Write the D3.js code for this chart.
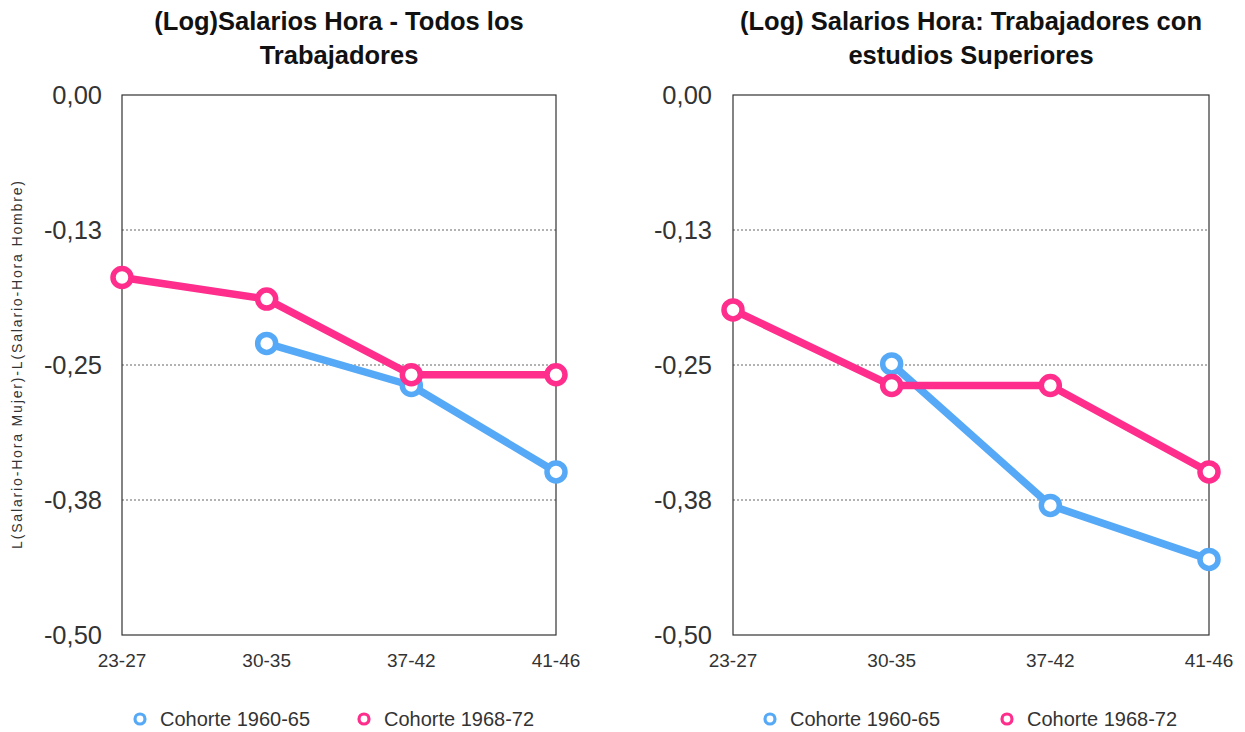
<!DOCTYPE html>
<html>
<head>
<meta charset="utf-8">
<script src="https://cdn.jsdelivr.net/npm/d3@7"></script>
<style>
  body { margin: 0; background: #fff; }
  svg text { font-family: "Helvetica Neue", Helvetica, "Liberation Sans", Arial, sans-serif; }
</style>
</head>
<body>
<div id="chart"></div>
<script>
var ages = ['23-27', '30-35', '37-42', '41-46'];
var yTicks = [0, -0.125, -0.25, -0.375, -0.5];
var yTickLabels = ['0,00', '-0,13', '-0,25', '-0,38', '-0,50'];
var seriesNames = ['Cohorte 1960-65', 'Cohorte 1968-72'];
var colors = ['#55a9f6', '#ff2d8c'];

// left panel: todos los trabajadores
var todos1960 = [null, -0.230, -0.269, -0.349];
var todos1968 = [-0.169, -0.189, -0.259, -0.259];
// right panel: estudios superiores
var sup1960 = [null, -0.249, -0.380, -0.430];
var sup1968 = [-0.199, -0.269, -0.269, -0.349];

var panels = [
  { title: ['(Log)Salarios Hora - Todos los', 'Trabajadores'], series: [todos1960, todos1968],
    x0: 122, x1: 556, tickX: 102, legendX: [140, 364], yLabel: true },
  { title: ['(Log) Salarios Hora: Trabajadores con', 'estudios Superiores'], series: [sup1960, sup1968],
    x0: 733, x1: 1209, tickX: 712, legendX: [770, 1007], yLabel: false }
];

var svg = d3.select('#chart').append('svg')
  .attr('width', 1245)
  .attr('height', 732);

var yScale = d3.scaleLinear().domain([-0.5, 0]).range([635, 95]);

panels.forEach(function(p) {
  var xScale = d3.scalePoint().domain(ages).range([p.x0, p.x1]);
  var g = svg.append('g');

  // title
  g.append('text')
    .attr('x', (p.x0 + p.x1) / 2)
    .attr('y', 30)
    .attr('text-anchor', 'middle')
    .style('font-size', '25.5px')
    .style('font-weight', 'bold')
    .attr('fill', '#111')
    .selectAll('tspan')
    .data(p.title)
    .enter().append('tspan')
    .attr('x', (p.x0 + p.x1) / 2)
    .attr('dy', function(d, i) { return i ? 34 : 0; })
    .text(function(d) { return d; });

  // gridlines
  g.selectAll('.grid')
    .data(yTicks.slice(1, 4))
    .enter().append('line')
    .attr('x1', p.x0).attr('x2', p.x1)
    .attr('y1', function(d) { return yScale(d); })
    .attr('y2', function(d) { return yScale(d); })
    .attr('stroke', '#666')
    .attr('stroke-width', 1)
    .attr('stroke-dasharray', '2,2');

  // frame
  g.append('rect')
    .attr('x', p.x0).attr('y', yScale(0))
    .attr('width', p.x1 - p.x0).attr('height', yScale(-0.5) - yScale(0))
    .attr('fill', 'none')
    .attr('stroke', '#333')
    .attr('stroke-width', 1.2);

  // y tick labels
  g.selectAll('.ytick')
    .data(yTicks)
    .enter().append('text')
    .attr('x', p.tickX)
    .attr('y', function(d) { return yScale(d); })
    .attr('dy', '0.35em')
    .attr('text-anchor', 'end')
    .style('font-size', '25.5px')
    .attr('fill', '#333')
    .text(function(d, i) { return yTickLabels[i]; });

  // x tick labels
  g.selectAll('.xtick')
    .data(ages)
    .enter().append('text')
    .attr('x', function(d) { return xScale(d); })
    .attr('y', 667)
    .attr('text-anchor', 'middle')
    .style('font-size', '19px')
    .attr('fill', '#333')
    .text(function(d) { return d; });

  if (p.yLabel) {
    g.append('text')
      .attr('transform', 'translate(22,365) rotate(-90)')
      .attr('text-anchor', 'middle')
      .attr('textLength', 368)
      .attr('lengthAdjust', 'spacing')
      .style('font-size', '14px')
      .attr('fill', '#333')
      .text('L(Salario-Hora Mujer)-L(Salario-Hora Hombre)');
  }

  var line = d3.line()
    .defined(function(d) { return d != null; })
    .x(function(d, i) { return xScale(ages[i]); })
    .y(function(d) { return yScale(d); });

  p.series.forEach(function(vals, s) {
    g.append('path')
      .datum(vals)
      .attr('fill', 'none')
      .attr('stroke', colors[s])
      .attr('stroke-width', 7.5)
      .attr('stroke-linejoin', 'round')
      .attr('d', line);
  });
  p.series.forEach(function(vals, s) {
    g.selectAll('.pt' + s)
      .data(vals.map(function(v, i) { return { v: v, i: i }; }).filter(function(d) { return d.v != null; }))
      .enter().append('circle')
      .attr('cx', function(d) { return xScale(ages[d.i]); })
      .attr('cy', function(d) { return yScale(d.v); })
      .attr('r', 9)
      .attr('fill', '#fff')
      .attr('stroke', colors[s])
      .attr('stroke-width', 5.5);
  });

  // legend
  seriesNames.forEach(function(name, s) {
    var lx = p.legendX[s];
    g.append('circle')
      .attr('cx', lx).attr('cy', 719)
      .attr('r', 5)
      .attr('fill', '#fff')
      .attr('stroke', colors[s])
      .attr('stroke-width', 3.2);
    g.append('text')
      .attr('x', lx + 20).attr('y', 719)
      .attr('dy', '0.35em')
      .style('font-size', '20px')
      .attr('fill', '#333')
      .text(name);
  });
});
</script>
</body>
</html>
